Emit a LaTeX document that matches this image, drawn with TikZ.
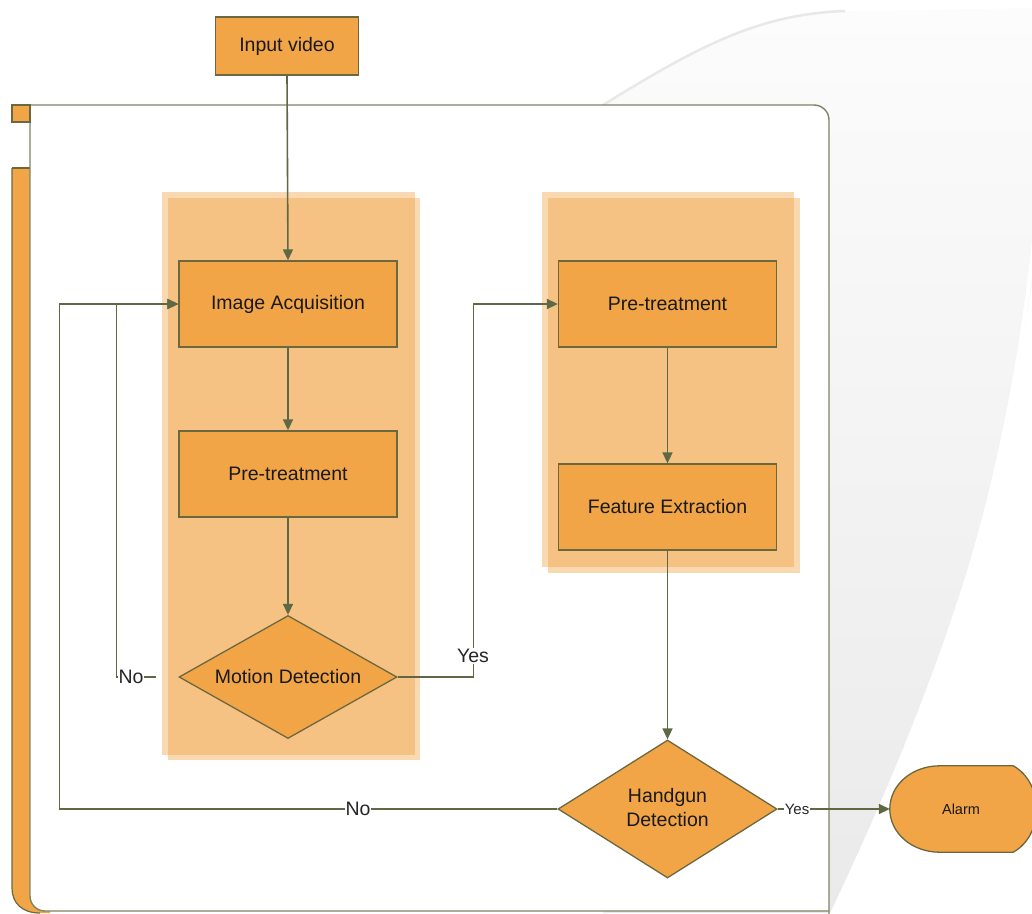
\documentclass[tikz,border=0pt]{standalone}
\usepackage{fontspec}
\setmainfont{Liberation Sans}
\usetikzlibrary{arrows.meta,shapes.geometric,calc}

\definecolor{boxfill}{HTML}{F2A546}
\definecolor{boxline}{HTML}{6B6840}
\definecolor{wire}{HTML}{5E6845}
\definecolor{framecol}{HTML}{7F8266}
\definecolor{groupfill}{HTML}{F0A040}
\definecolor{swooshtop}{HTML}{FCFCFC}
\definecolor{swooshbot}{HTML}{EAEAEA}

\tikzset{
  procbox/.style={rectangle, draw=boxline, fill=boxfill, line width=1.3pt,
    minimum width=218pt, minimum height=86pt, inner sep=0pt,
    text=black!90, font=\fontsize{19.5}{24}\selectfont},
  decision/.style={diamond, draw=boxline, fill=boxfill, line width=1.3pt,
    inner sep=0pt, text=black!90, font=\fontsize{19.5}{25}\selectfont},
  flow/.style={draw=wire, line width=1.6pt, -{Triangle[length=11pt,width=10pt]}},
  lab/.style={fill=white, inner sep=1pt, text=black!85, font=\fontsize{19.5}{24}\selectfont},
  smalllab/.style={fill=white, inner sep=1pt, text=black!85, font=\fontsize{15}{18}\selectfont},
  groupbg/.style={fill=groupfill, fill opacity=0.4, draw=none},
}

\begin{document}
\begin{tikzpicture}[x=1pt, y=-1pt]
  \useasboundingbox (0,0) rectangle (1032,913);
  \clip (0,0) rectangle (1032,913);

  % soft grey swoosh in the background
  \shade[top color=swooshtop, bottom color=swooshbot]
    (603,105) .. controls (700,45) and (760,14) .. (845,11) -- (1040,8)
    -- (1040,220) .. controls (1015,440) and (960,640) .. (830,913)
    -- (603,913) -- cycle;
  \draw[black!9, line width=2.5pt]
    (603,105) .. controls (700,45) and (760,14) .. (845,11);
  \draw[white, line width=4pt]
    (1034,240) .. controls (1012,450) and (960,650) .. (838,913);

  % container frame with orange side bar
  \fill[boxfill] (12,168) -- (50,168) -- (50,913) -- (40,913)
    .. controls (22,913) and (12,903) .. (12,888) -- cycle;
  \draw[boxline, line width=1.2pt] (12,168) -- (12,888)
    .. controls (12,903) and (22,913) .. (40,913);
  \draw[boxline, line width=1.2pt] (12,168) -- (30,168);
  \fill[white] (30,105) -- (814,105) .. controls (822.3,105) and (829,111.7) .. (829,120)
    -- (829,911) -- (45,911) .. controls (36.7,911) and (30,904.3) .. (30,896) -- cycle;
  \draw[framecol, line width=1.4pt] (12,105) -- (814,105)
    .. controls (822.3,105) and (829,111.7) .. (829,120) -- (829,920);
  \draw[framecol, line width=1.4pt] (829,911) -- (45,911)
    .. controls (36.7,911) and (30,904.3) .. (30,896) -- (30,105);
  \draw[boxline, fill=boxfill, line width=1.2pt] (12,105) rectangle (30,122);

  % highlighted stages
  \fill[groupbg] (162,192) rectangle (415,755);
  \fill[groupbg] (168,198) rectangle (420,760);
  \fill[groupbg] (542,192) rectangle (794,567);
  \fill[groupbg] (548,198) rectangle (800,573);

  % nodes
  \node[procbox, minimum width=143pt, minimum height=58pt] (iv) at (287,46) {Input video};
  \node[procbox] (ia) at (288,304) {Image Acquisition};
  \node[procbox] (pt1) at (288,474) {Pre-treatment};
  \node[decision, minimum width=218pt, minimum height=123pt] (md) at (288,677)
    {\makebox[0pt]{Motion Detection}};
  \node[procbox] (pt2) at (667.5,304) {Pre-treatment};
  \node[procbox] (fe) at (667.5,507) {Feature Extraction};
  \node[decision, minimum width=219pt, minimum height=138pt] (hd) at (667.5,809)
    {\makebox[0pt]{\begin{tabular}{@{}c@{}}Handgun\\[-1pt]Detection\end{tabular}}};

  % alarm (display symbol)
  \node[minimum width=142pt, minimum height=86pt, inner sep=0pt] (alarm) at (961,809) {};
  \draw[boxline, fill=boxfill, line width=1.3pt]
    ($(alarm.north west)+(50,0)$) -- ($(alarm.north east)+(-19,0)$)
    .. controls ($(alarm.east)+(12,-26)$) and ($(alarm.east)+(12,26)$) .. ($(alarm.south east)+(-19,0)$)
    -- ($(alarm.south west)+(50,0)$)
    .. controls ($(alarm.south west)+(22,0)$) and ($(alarm.west)+(0,24)$) .. (alarm.west)
    .. controls ($(alarm.west)+(0,-24)$) and ($(alarm.north west)+(22,0)$) .. ($(alarm.north west)+(50,0)$);
  \node[text=black!90, font=\fontsize{14.5}{17}\selectfont] (alarmtext) at (alarm.center) {Alarm};

  % connectors
  \draw[flow] (iv.south) -- (ia.north);
  \draw[flow] (ia.south) -- (pt1.north);
  \draw[flow] (pt1.south) -- (md.north);
  \draw[flow] (pt2.south) -- (fe.north);
  \draw[flow] (fe.south) -- (hd.north);
  \draw[flow, shorten <=22pt] (md.west) -- ($(md.west)+(-62,0)$) |- (ia.west);
  \draw[flow] (md.east) -- ($(md.east)+(76,0)$) |- (pt2.west);
  \draw[flow] (hd.west) -| ($(ia.west)+(-119,0)$) -- (ia.west);
  \draw[flow] (hd.east) -- (alarm.west);

  % connector labels
  \node[lab] (nomd) at (131,677) {No};
  \node[lab] (yesmd) at (473,656) {Yes};
  \node[lab] (nohd) at (358,809) {No};
  \node[smalllab] (yeshd) at (797,809) {Yes};
\end{tikzpicture}
\end{document}
